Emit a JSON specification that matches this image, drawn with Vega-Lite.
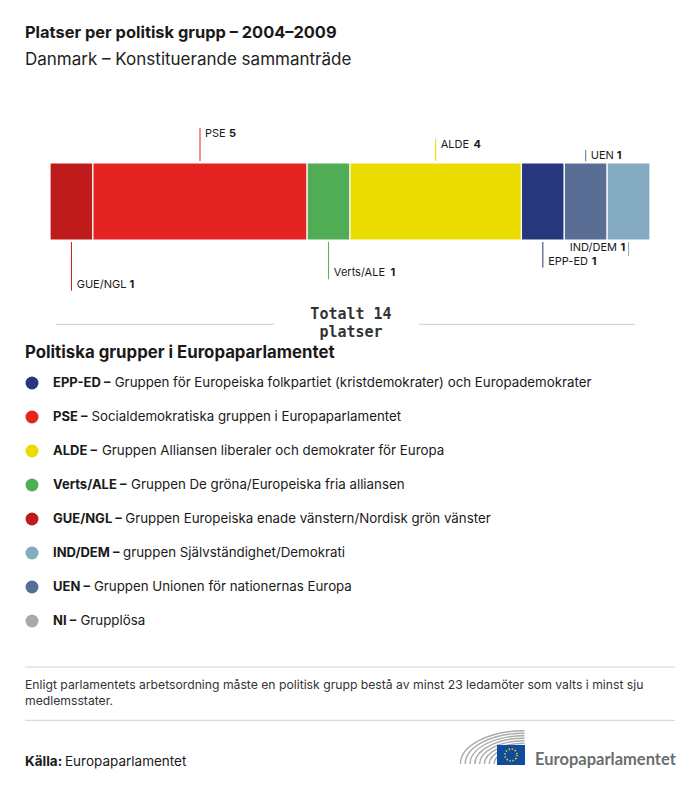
{
  "$schema": "https://vega.github.io/schema/vega-lite/v6.json",
  "background": "white",
  "padding": {"top": 25, "left": 0, "right": 0, "bottom": 0},
  "spacing": 0,
  "title": {
    "text": "Platser per politisk grupp – 2004–2009",
    "subtitle": "Danmark – Konstituerande sammanträde",
    "anchor": "start",
    "frame": "group",
    "dx": 25,
    "font": "Inter",
    "fontSize": 16.4,
    "fontWeight": "bold",
    "color": "#1a1a1a",
    "subtitleFont": "Inter",
    "subtitleFontSize": 17,
    "subtitleColor": "#222222",
    "subtitlePadding": 10.5,
    "offset": 48
  },
  "config": {
    "view": {"stroke": null},
    "font": "Inter",
    "text": {"font": "Inter"}
  },
  "datasets": {
    "seats": [
      {"group": "GUE/NGL", "seats": 1, "order": 1, "side": "below", "tier": 4, "anchor": "left"},
      {"group": "PSE", "seats": 5, "order": 2, "side": "above", "tier": 3, "anchor": "left"},
      {"group": "Verts/ALE", "seats": 1, "order": 3, "side": "below", "tier": 3, "anchor": "left"},
      {"group": "ALDE", "seats": 4, "order": 4, "side": "above", "tier": 2, "anchor": "left"},
      {"group": "EPP-ED", "seats": 1, "order": 5, "side": "below", "tier": 2, "anchor": "left"},
      {"group": "UEN", "seats": 1, "order": 6, "side": "above", "tier": 1, "anchor": "left"},
      {"group": "IND/DEM", "seats": 1, "order": 7, "side": "below", "tier": 1, "anchor": "right"}
    ],
    "groups": [
      {"abbr": "EPP-ED", "desc": "Gruppen för Europeiska folkpartiet (kristdemokrater) och Europademokrater"},
      {"abbr": "PSE", "desc": "Socialdemokratiska gruppen i Europaparlamentet"},
      {"abbr": "ALDE", "desc": "Gruppen Alliansen liberaler och demokrater för Europa"},
      {"abbr": "Verts/ALE", "desc": "Gruppen De gröna/Europeiska fria alliansen"},
      {"abbr": "GUE/NGL", "desc": "Gruppen Europeiska enade vänstern/Nordisk grön vänster"},
      {"abbr": "IND/DEM", "desc": "gruppen Självständighet/Demokrati"},
      {"abbr": "UEN", "desc": "Gruppen Unionen för nationernas Europa"},
      {"abbr": "NI", "desc": "Grupplösa"}
    ]
  },
  "vconcat": [
    {
      "width": 700,
      "height": 45,
      "data": {"name": "seats"},
      "transform": [
        {"stack": "seats", "groupby": [], "sort": [{"field": "order", "order": "ascending"}], "as": ["x0", "x1"]},
        {"calculate": "(datum.x0 + datum.x1) / 2", "as": "mid"},
        {"filter": "datum.side === 'above'"}
      ],
      "encoding": {
        "x": {"field": "mid", "type": "quantitative", "axis": null, "scale": {"domain": [0, 14], "range": [50, 650], "nice": false, "zero": false}},
        "y": {"field": "tier", "type": "quantitative", "axis": null, "scale": {"domain": [0, 4.0909], "nice": false, "zero": false}}
      },
      "layer": [
        {
          "mark": {"type": "rule", "strokeWidth": 1},
          "encoding": {
            "y2": {"datum": 0},
            "color": {"field": "group", "type": "nominal", "legend": null,
              "scale": {"domain": ["EPP-ED", "PSE", "ALDE", "Verts/ALE", "GUE/NGL", "IND/DEM", "UEN", "NI"],
                        "range": ["#27377e", "#e42420", "#ebdc00", "#50ad56", "#bf1b1d", "#84aac1", "#5a6d95", "#aaaaaa"]}}
          }
        },
        {
          "mark": {"type": "text", "align": "left", "baseline": "alphabetic", "dx": 5, "dy": 9, "fontSize": 11, "color": "#1a1a1a"},
          "encoding": {"text": {"field": "group"}}
        },
        {
          "mark": {"type": "text", "align": "left", "baseline": "alphabetic", "dy": 9, "fontSize": 11, "fontWeight": "bold", "color": "#1a1a1a",
                   "dx": {"expr": "8.7 + 9.6*length(replace(datum.group, regexp('[^MW]','g'), '')) + 7.8*length(replace(datum.group, regexp('[^ACDGHKNOQUVXY]','g'), '')) + 6.8*length(replace(datum.group, regexp('[^BEFJLPRSTZ]','g'), '')) + 3*length(replace(datum.group, regexp('[^I]','g'), '')) + 4.2*length(replace(datum.group, regexp('[^/]','g'), '')) + 4.8*length(replace(datum.group, regexp('[^-]','g'), '')) + 4.9*length(replace(datum.group, regexp('[^a-z]','g'), ''))"}},
          "encoding": {"text": {"field": "seats", "type": "quantitative"}}
        }
      ]
    },
    {
      "width": 700,
      "height": 77,
      "data": {"name": "seats"},
      "transform": [
        {"stack": "seats", "groupby": [], "sort": [{"field": "order", "order": "ascending"}], "as": ["x0", "x1"]}
      ],
      "mark": {"type": "rect", "stroke": "white", "strokeWidth": 1.2},
      "encoding": {
        "x": {"field": "x0", "type": "quantitative", "axis": null, "scale": {"domain": [0, 14], "range": [50, 650], "nice": false, "zero": false}},
        "x2": {"field": "x1"},
        "color": {"field": "group", "type": "nominal", "legend": null,
          "scale": {"domain": ["EPP-ED", "PSE", "ALDE", "Verts/ALE", "GUE/NGL", "IND/DEM", "UEN", "NI"],
                    "range": ["#27377e", "#e42420", "#ebdc00", "#50ad56", "#bf1b1d", "#84aac1", "#5a6d95", "#aaaaaa"]}}
      }
    },
    {
      "width": 700,
      "height": 55,
      "data": {"name": "seats"},
      "transform": [
        {"stack": "seats", "groupby": [], "sort": [{"field": "order", "order": "ascending"}], "as": ["x0", "x1"]},
        {"calculate": "(datum.x0 + datum.x1) / 2", "as": "mid"},
        {"filter": "datum.side === 'below'"}
      ],
      "encoding": {
        "x": {"field": "mid", "type": "quantitative", "axis": null, "scale": {"domain": [0, 14], "range": [50, 650], "nice": false, "zero": false}},
        "y": {"field": "tier", "type": "quantitative", "axis": null, "scale": {"domain": [-0.207, 4.534], "nice": false, "zero": false, "reverse": true}}
      },
      "layer": [
        {
          "mark": {"type": "rule", "strokeWidth": 1},
          "encoding": {
            "y2": {"datum": -0.207},
            "color": {"field": "group", "type": "nominal", "legend": null,
              "scale": {"domain": ["EPP-ED", "PSE", "ALDE", "Verts/ALE", "GUE/NGL", "IND/DEM", "UEN", "NI"],
                        "range": ["#27377e", "#e42420", "#ebdc00", "#50ad56", "#bf1b1d", "#84aac1", "#5a6d95", "#aaaaaa"]}}
          }
        },
        {
          "transform": [{"filter": "datum.anchor === 'left'"}],
          "mark": {"type": "text", "align": "left", "baseline": "alphabetic", "dx": 5.3, "dy": -3, "fontSize": 11, "color": "#1a1a1a"},
          "encoding": {"text": {"field": "group"}}
        },
        {
          "transform": [{"filter": "datum.anchor === 'left'"}],
          "mark": {"type": "text", "align": "left", "baseline": "alphabetic", "dy": -3, "fontSize": 11, "fontWeight": "bold", "color": "#1a1a1a",
                   "dx": {"expr": "9 + 9.6*length(replace(datum.group, regexp('[^MW]','g'), '')) + 7.8*length(replace(datum.group, regexp('[^ACDGHKNOQUVXY]','g'), '')) + 6.8*length(replace(datum.group, regexp('[^BEFJLPRSTZ]','g'), '')) + 3*length(replace(datum.group, regexp('[^I]','g'), '')) + 4.2*length(replace(datum.group, regexp('[^/]','g'), '')) + 4.8*length(replace(datum.group, regexp('[^-]','g'), '')) + 4.9*length(replace(datum.group, regexp('[^a-z]','g'), ''))"}},
          "encoding": {"text": {"field": "seats", "type": "quantitative"}}
        },
        {
          "transform": [{"filter": "datum.anchor === 'right'"}],
          "mark": {"type": "text", "align": "right", "baseline": "alphabetic", "dx": -11.6, "dy": -5, "fontSize": 11, "color": "#1a1a1a"},
          "encoding": {"text": {"field": "group"}}
        },
        {
          "transform": [{"filter": "datum.anchor === 'right'"}],
          "mark": {"type": "text", "align": "right", "baseline": "alphabetic", "dx": -3.3, "dy": -5, "fontSize": 11, "fontWeight": "bold", "color": "#1a1a1a"},
          "encoding": {"text": {"field": "seats", "type": "quantitative"}}
        }
      ]
    },
    {
      "width": 700,
      "height": 69,
      "data": {"values": [{"total": "Totalt 14\nplatser", "heading": "Politiska grupper i Europaparlamentet"}]},
      "layer": [
        {
          "mark": {"type": "rule", "color": "#cccccc", "strokeWidth": 1},
          "encoding": {"x": {"value": 56}, "x2": {"value": 274}, "y": {"value": 27.3}}
        },
        {
          "mark": {"type": "rule", "color": "#cccccc", "strokeWidth": 1},
          "encoding": {"x": {"value": 419}, "x2": {"value": 635}, "y": {"value": 27.3}}
        },
        {
          "mark": {"type": "text", "font": "DejaVu Sans Mono", "fontWeight": "bold", "fontSize": 15, "align": "center", "baseline": "alphabetic", "lineBreak": "\n", "lineHeight": 18.5, "color": "#333333"},
          "encoding": {"x": {"value": 351}, "y": {"value": 21.7}, "text": {"field": "total"}}
        },
        {
          "mark": {"type": "text", "fontWeight": "bold", "fontSize": 16.8, "align": "left", "baseline": "alphabetic", "color": "#1a1a1a"},
          "encoding": {"x": {"value": 25}, "y": {"value": 60.7}, "text": {"field": "heading"}}
        }
      ]
    },
    {
      "width": 700,
      "height": 272,
      "data": {"name": "groups"},
      "transform": [{"calculate": "datum.abbr + ' –'", "as": "abbrLabel"}],
      "encoding": {
        "y": {"field": "abbr", "type": "nominal", "axis": null,
              "sort": ["EPP-ED", "PSE", "ALDE", "Verts/ALE", "GUE/NGL", "IND/DEM", "UEN", "NI"],
              "scale": {"paddingInner": 0, "paddingOuter": 0}}
      },
      "layer": [
        {
          "mark": {"type": "circle", "size": 169, "opacity": 1},
          "encoding": {
            "x": {"value": 32},
            "color": {"field": "abbr", "type": "nominal", "legend": null,
              "scale": {"domain": ["EPP-ED", "PSE", "ALDE", "Verts/ALE", "GUE/NGL", "IND/DEM", "UEN", "NI"],
                        "range": ["#27377e", "#e42420", "#ebdc00", "#50ad56", "#bf1b1d", "#84aac1", "#5a6d95", "#aaaaaa"]}}
          }
        },
        {
          "mark": {"type": "text", "align": "left", "baseline": "alphabetic", "dy": 4, "fontSize": 13, "fontWeight": "bold", "color": "#1a1a1a"},
          "encoding": {"x": {"value": 53}, "text": {"field": "abbrLabel"}}
        },
        {
          "mark": {"type": "text", "align": "left", "baseline": "alphabetic", "dy": 4, "fontSize": 13.3, "color": "#1a1a1a",
                   "dx": {"expr": "14.5 + 11.3*length(replace(datum.abbr, regexp('[^MW]','g'), '')) + 9.2*length(replace(datum.abbr, regexp('[^ACDGHKNOQUVXY]','g'), '')) + 8*length(replace(datum.abbr, regexp('[^BEFJLPRSTZ]','g'), '')) + 3.7*length(replace(datum.abbr, regexp('[^I]','g'), '')) + 5*length(replace(datum.abbr, regexp('[^/]','g'), '')) + 6*length(replace(datum.abbr, regexp('[^-]','g'), '')) + 6.05*length(replace(datum.abbr, regexp('[^a-z]','g'), ''))"}},
          "encoding": {"x": {"value": 53}, "text": {"field": "desc"}}
        }
      ]
    },
    {
      "width": 700,
      "height": 150,
      "data": {"values": [{"note": "Enligt parlamentets arbetsordning måste en politisk grupp bestå av minst 23 ledamöter som valts i minst sju\nmedlemsstater.", "sourceLabel": "Källa:", "source": "Europaparlamentet", "brand": "Europaparlamentet"}]},
      "layer": [
        {
          "mark": {"type": "rule", "color": "#d0d0d0", "strokeWidth": 1},
          "encoding": {"x": {"value": 25}, "x2": {"value": 675}, "y": {"value": 29}}
        },
        {
          "mark": {"type": "text", "align": "left", "baseline": "alphabetic", "fontSize": 12.2, "lineBreak": "\n", "lineHeight": 16.8, "color": "#333333"},
          "encoding": {"x": {"value": 25}, "y": {"value": 50.5}, "text": {"field": "note"}}
        },
        {
          "mark": {"type": "rule", "color": "#d0d0d0", "strokeWidth": 1},
          "encoding": {"x": {"value": 25}, "x2": {"value": 675}, "y": {"value": 82.3}}
        },
        {
          "mark": {"type": "text", "align": "left", "baseline": "alphabetic", "fontSize": 13.5, "fontWeight": "bold", "color": "#1a1a1a"},
          "encoding": {"x": {"value": 25}, "y": {"value": 128}, "text": {"field": "sourceLabel"}}
        },
        {
          "mark": {"type": "text", "align": "left", "baseline": "alphabetic", "fontSize": 13.5, "color": "#1a1a1a"},
          "encoding": {"x": {"value": 65}, "y": {"value": 128}, "text": {"field": "source"}}
        },
        {
          "mark": {"type": "point", "filled": false, "stroke": "#a8abad", "strokeWidth": 1.4, "size": 4096, "opacity": 1,
                   "shape": "M-1.08,0.5A2,1.04 0 0 1 0.92,-0.54M-0.93,0.5A1.85,0.962 0 0 1 0.92,-0.462M-0.78,0.5A1.7,0.884 0 0 1 0.92,-0.384M-0.63,0.5A1.55,0.806 0 0 1 0.92,-0.306M-0.48,0.5A1.4,0.728 0 0 1 0.92,-0.228M-0.33,0.5A1.25,0.65 0 0 1 0.92,-0.15M-0.18,0.5A1.1,0.572 0 0 1 0.92,-0.072M-0.03,0.5A0.95,0.494 0 0 1 0.92,0.006"},
          "encoding": {"x": {"value": 495}, "y": {"value": 110}}
        },
        {
          "mark": {"type": "point", "filled": true, "color": "#0e4c9e", "size": 784, "opacity": 1, "strokeWidth": 0,
                   "shape": "M-1,-0.714H1V0.714H-1Z"},
          "encoding": {"x": {"value": 511}, "y": {"value": 117}}
        },
        {
          "mark": {"type": "point", "filled": false, "shape": "circle", "stroke": "#ffdd00", "strokeWidth": 1.6, "strokeDash": [1.3, 1.84], "size": 144, "opacity": 1},
          "encoding": {"x": {"value": 511}, "y": {"value": 117}}
        },
        {
          "mark": {"type": "text", "font": "Lato", "align": "left", "baseline": "alphabetic", "fontSize": 16.5, "fontWeight": "bold", "color": "#6b6e70"},
          "encoding": {"x": {"value": 535}, "y": {"value": 127}, "text": {"field": "brand"}}
        }
      ]
    }
  ]
}
